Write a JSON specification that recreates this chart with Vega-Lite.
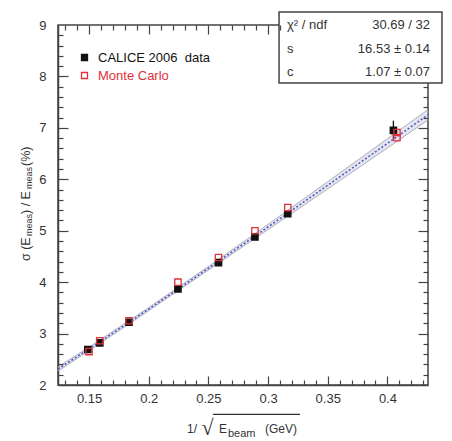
{
  "$schema": "https://vega.github.io/schema/vega-lite/v6.json",
  "width": 370,
  "height": 360,
  "autosize": {"type": "none"},
  "padding": {"left": 58, "top": 25, "right": 24, "bottom": 56},
  "background": "white",
  "config": {
    "font": "Liberation Sans",
    "view": {"stroke": "#444", "strokeWidth": 1.5},
    "axis": {
      "domainColor": "#444", "domainWidth": 1.5, "tickColor": "#444", "tickWidth": 1.2,
      "labelColor": "#333", "labelFontSize": 13, "titleFontSize": 13, "titleColor": "#333",
      "titleFontWeight": "normal", "grid": false, "labelFont": "Liberation Sans", "titleFont": "Liberation Sans",
      "labelOverlap": false
    },
    "text": {"font": "Liberation Sans", "color": "#333", "fontSize": 13}
  },
  "datasets": {
    "points": [
      {"x": 0.149, "y": 2.69, "series": "CALICE 2006\u00a0 data"},
      {"x": 0.159, "y": 2.82, "series": "CALICE 2006\u00a0 data"},
      {"x": 0.1835, "y": 3.22, "series": "CALICE 2006\u00a0 data"},
      {"x": 0.2245, "y": 3.87, "series": "CALICE 2006\u00a0 data"},
      {"x": 0.2585, "y": 4.38, "series": "CALICE 2006\u00a0 data"},
      {"x": 0.289, "y": 4.88, "series": "CALICE 2006\u00a0 data"},
      {"x": 0.3165, "y": 5.33, "series": "CALICE 2006\u00a0 data"},
      {"x": 0.405, "y": 6.95, "series": "CALICE 2006\u00a0 data"},
      {"x": 0.150, "y": 2.65, "series": "Monte Carlo"},
      {"x": 0.159, "y": 2.86, "series": "Monte Carlo"},
      {"x": 0.1835, "y": 3.25, "series": "Monte Carlo"},
      {"x": 0.2245, "y": 4.00, "series": "Monte Carlo"},
      {"x": 0.2585, "y": 4.48, "series": "Monte Carlo"},
      {"x": 0.289, "y": 5.00, "series": "Monte Carlo"},
      {"x": 0.3165, "y": 5.45, "series": "Monte Carlo"},
      {"x": 0.408, "y": 6.91, "series": "Monte Carlo"},
      {"x": 0.408, "y": 6.81, "series": "Monte Carlo"}
    ],
    "err": [
      {"x": 0.405, "lo": 6.78, "hi": 7.14}
    ],
    "fit": [
      {"x": 0.124, "fit": 2.312, "lo": 2.272, "hi": 2.352},
      {"x": 0.15, "fit": 2.701, "lo": 2.666, "hi": 2.736},
      {"x": 0.2, "fit": 3.475, "lo": 3.445, "hi": 3.505},
      {"x": 0.25, "fit": 4.269, "lo": 4.234, "hi": 4.304},
      {"x": 0.3, "fit": 5.073, "lo": 5.023, "hi": 5.123},
      {"x": 0.35, "fit": 5.884, "lo": 5.814, "hi": 5.954},
      {"x": 0.4, "fit": 6.698, "lo": 6.608, "hi": 6.788},
      {"x": 0.434, "fit": 7.253, "lo": 7.153, "hi": 7.353}
    ]
  },
  "layer": [
    {
      "data": {"name": "fit"},
      "mark": {"type": "line", "opacity": 0},
      "encoding": {
        "x": {
          "field": "x", "type": "quantitative",
          "scale": {"domain": [0.124, 0.434], "nice": false, "zero": false},
          "axis": {"orient": "bottom", "labels": false, "title": null, "domain": false, "offset": -9, "tickSize": 9, "zindex": 1,
                   "values": [0.15, 0.2, 0.25, 0.3, 0.35, 0.4]}
        },
        "y": {
          "field": "fit", "type": "quantitative",
          "scale": {"domain": [2, 9], "nice": false, "zero": false},
          "axis": {"orient": "left", "labels": false, "title": null, "domain": false, "offset": -10, "tickSize": 10, "zindex": 1,
                   "values": [3, 4, 5, 6, 7, 8]}
        }
      }
    },
    {
      "data": {"name": "fit"},
      "mark": {"type": "line", "opacity": 0},
      "encoding": {
        "x": {
          "field": "x", "type": "quantitative",
          "scale": {"domain": [0.124, 0.434], "nice": false, "zero": false},
          "axis": {"orient": "bottom", "labels": false, "title": null, "domain": false, "offset": -5, "tickSize": 5, "zindex": 1,
                   "values": [0.13,0.14,0.16,0.17,0.18,0.19,0.21,0.22,0.23,0.24,0.26,0.27,0.28,0.29,0.31,0.32,0.33,0.34,0.36,0.37,0.38,0.39,0.41,0.42,0.43]}
        },
        "y": {
          "field": "fit", "type": "quantitative",
          "scale": {"domain": [2, 9], "nice": false, "zero": false},
          "axis": {"orient": "left", "labels": false, "title": null, "domain": false, "offset": -5, "tickSize": 5, "zindex": 1,
                   "values": [2.2,2.4,2.6,2.8,3.2,3.4,3.6,3.8,4.2,4.4,4.6,4.8,5.2,5.4,5.6,5.8,6.2,6.4,6.6,6.8,7.2,7.4,7.6,7.8,8.2,8.4,8.6,8.8]}
        }
      }
    },
    {
      "data": {"name": "fit"},
      "mark": {"type": "line", "opacity": 0},
      "encoding": {
        "x": {
          "field": "x", "type": "quantitative",
          "scale": {"domain": [0.124, 0.434], "nice": false, "zero": false},
          "axis": {"orient": "top", "labels": false, "title": null, "domain": false, "offset": -9, "tickSize": 9, "zindex": 1,
                   "values": [0.15, 0.2, 0.25, 0.3]}
        },
        "y": {
          "field": "fit", "type": "quantitative",
          "scale": {"domain": [2, 9], "nice": false, "zero": false},
          "axis": {"orient": "right", "labels": false, "title": null, "domain": false, "offset": -10, "tickSize": 10, "zindex": 1,
                   "values": [3, 4, 5, 6, 7]}
        }
      }
    },
    {
      "data": {"name": "fit"},
      "mark": {"type": "line", "opacity": 0},
      "encoding": {
        "x": {
          "field": "x", "type": "quantitative",
          "scale": {"domain": [0.124, 0.434], "nice": false, "zero": false},
          "axis": {"orient": "top", "labels": false, "title": null, "domain": false, "offset": -5, "tickSize": 5, "zindex": 1,
                   "values": [0.13,0.14,0.16,0.17,0.18,0.19,0.21,0.22,0.23,0.24,0.26,0.27,0.28,0.29,0.31]}
        },
        "y": {
          "field": "fit", "type": "quantitative",
          "scale": {"domain": [2, 9], "nice": false, "zero": false},
          "axis": {"orient": "right", "labels": false, "title": null, "domain": false, "offset": -5, "tickSize": 5, "zindex": 1,
                   "values": [2.2,2.4,2.6,2.8,3.2,3.4,3.6,3.8,4.2,4.4,4.6,4.8,5.2,5.4,5.6,5.8,6.2,6.4,6.6,6.8,7.2,7.4,7.6,7.8]}
        }
      }
    },
    {
      "layer": [
        {
          "data": {"name": "fit"},
          "mark": {"type": "area", "color": "#c9cbe0", "opacity": 0.5},
          "encoding": {
            "x": {
              "field": "x", "type": "quantitative",
              "scale": {"domain": [0.124, 0.434], "nice": false, "zero": false},
              "axis": {
                "orient": "bottom",
                "values": [0.15, 0.2, 0.25, 0.3, 0.35, 0.4],
                "format": ".2~f", "ticks": false, "labelPadding": 7,
                "labelFlush": false, "labelOverlap": false, "title": null
              }
            },
            "y": {
              "field": "lo", "type": "quantitative",
              "scale": {"domain": [2, 9], "nice": false, "zero": false},
              "axis": {
                "orient": "left",
                "values": [2, 3, 4, 5, 6, 7, 8, 9],
                "format": "d", "ticks": false, "labelPadding": 12,
                "labelFlush": false, "labelOverlap": false, "title": null
              }
            },
            "y2": {"field": "hi"}
          }
        },
        {
          "data": {"name": "fit"},
          "mark": {"type": "line", "color": "#9a9aa8", "strokeWidth": 0.8},
          "encoding": {"x": {"field": "x", "type": "quantitative"}, "y": {"field": "lo", "type": "quantitative"}}
        },
        {
          "data": {"name": "fit"},
          "mark": {"type": "line", "color": "#9a9aa8", "strokeWidth": 0.8},
          "encoding": {"x": {"field": "x", "type": "quantitative"}, "y": {"field": "hi", "type": "quantitative"}}
        },
        {
          "data": {"name": "fit"},
          "mark": {"type": "line", "color": "#4b55c8", "strokeWidth": 1.5, "strokeDash": [2, 2]},
          "encoding": {"x": {"field": "x", "type": "quantitative"}, "y": {"field": "fit", "type": "quantitative"}}
        },
        {
          "data": {"name": "err"},
          "mark": {"type": "rule", "color": "#111", "strokeWidth": 1.3},
          "encoding": {"x": {"field": "x", "type": "quantitative"}, "y": {"field": "lo", "type": "quantitative"}, "y2": {"field": "hi"}}
        },
        {
          "data": {"name": "points"},
          "mark": {"type": "point", "shape": "square", "size": 40, "strokeWidth": 1.3, "opacity": 1},
          "encoding": {
            "x": {"field": "x", "type": "quantitative"},
            "y": {"field": "y", "type": "quantitative"},
            "stroke": {
              "field": "series", "type": "nominal",
              "scale": {"domain": ["CALICE 2006\u00a0 data", "Monte Carlo"], "range": ["#111111", "#e0303a"]},
              "legend": {
                "title": null, "orient": "none", "legendX": 20, "legendY": 26, "padding": 0,
                "labelFontSize": 13, "labelFont": "Liberation Sans",
                "labelColor": {"expr": "datum.label == 'Monte Carlo' ? '#e0303a' : '#111111'"},
                "symbolSize": 36, "symbolStrokeWidth": 1.3, "rowPadding": 4, "labelOffset": 7
              }
            },
            "fill": {
              "field": "series", "type": "nominal",
              "scale": {"domain": ["CALICE 2006\u00a0 data", "Monte Carlo"], "range": ["#111111", "transparent"]}
            },
            "shape": {
              "field": "series", "type": "nominal",
              "scale": {"domain": ["CALICE 2006\u00a0 data", "Monte Carlo"], "range": ["square", "square"]}
            }
          }
        },
        {
          "data": {"values": [{"box": "stats"}]},
          "mark": {"type": "rect", "fill": "white", "stroke": "#444", "strokeWidth": 1.5},
          "encoding": {"x": {"datum": 0.3092}, "x2": {"datum": 0.4457}, "y": {"datum": 9.253}, "y2": {"datum": 7.872}}
        },
        {
          "data": {"values": [{"label": "χ² / ndf", "value": "30.69 / 32"}]},
          "layer": [
            {"mark": {"type": "text", "align": "left", "baseline": "middle"},
             "encoding": {"x": {"datum": 0.3159}, "y": {"datum": 9.0}, "text": {"field": "label"}}},
            {"mark": {"type": "text", "align": "right", "baseline": "middle"},
             "encoding": {"x": {"datum": 0.4357}, "y": {"datum": 9.0}, "text": {"field": "value"}}}
          ]
        },
        {
          "data": {"values": [{"label": "s", "value": "16.53 ± 0.14"}]},
          "layer": [
            {"mark": {"type": "text", "align": "left", "baseline": "middle"},
             "encoding": {"x": {"datum": 0.3159}, "y": {"datum": 8.533}, "text": {"field": "label"}}},
            {"mark": {"type": "text", "align": "right", "baseline": "middle"},
             "encoding": {"x": {"datum": 0.4357}, "y": {"datum": 8.533}, "text": {"field": "value"}}}
          ]
        },
        {
          "data": {"values": [{"label": "c", "value": "1.07 ± 0.07"}]},
          "layer": [
            {"mark": {"type": "text", "align": "left", "baseline": "middle"},
             "encoding": {"x": {"datum": 0.3159}, "y": {"datum": 8.086}, "text": {"field": "label"}}},
            {"mark": {"type": "text", "align": "right", "baseline": "middle"},
             "encoding": {"x": {"datum": 0.4357}, "y": {"datum": 8.086}, "text": {"field": "value"}}}
          ]
        },
        {
          "data": {"values": [{"a": "1/", "root": "√", "e": "E", "sub": "beam", "unit": "(GeV)"}]},
          "layer": [
            {"mark": {"type": "text", "align": "center", "baseline": "alphabetic", "fontSize": 12},
             "encoding": {"x": {"datum": 0.2363}, "y": {"datum": 1.067}, "text": {"field": "a"}}},
            {"mark": {"type": "text", "align": "left", "baseline": "alphabetic", "fontSize": 22, "font": "DejaVu Sans", "fontWeight": 200},
             "encoding": {"x": {"datum": 0.2442}, "y": {"datum": 1.03}, "text": {"field": "root"}}},
            {"mark": {"type": "text", "align": "left", "baseline": "alphabetic", "fontSize": 12},
             "encoding": {"x": {"datum": 0.2589}, "y": {"datum": 1.067}, "text": {"field": "e"}}},
            {"mark": {"type": "text", "align": "left", "baseline": "alphabetic", "fontSize": 11},
             "encoding": {"x": {"datum": 0.2664}, "y": {"datum": 0.989}, "text": {"field": "sub"}}},
            {"mark": {"type": "text", "align": "left", "baseline": "alphabetic", "fontSize": 12},
             "encoding": {"x": {"datum": 0.2974}, "y": {"datum": 1.067}, "text": {"field": "unit"}}},
            {"mark": {"type": "rule", "color": "#333", "strokeWidth": 1.2},
             "encoding": {"x": {"datum": 0.2538}, "x2": {"datum": 0.3268}, "y": {"datum": 1.43}}}
          ]
        },
        {
          "data": {"values": [{"a": "σ (E", "sub": "meas", "b": ") / E", "c": " (%)"}]},
          "layer": [
            {"mark": {"type": "text", "align": "left", "baseline": "alphabetic", "angle": 270, "fontSize": 12.5},
             "encoding": {"x": {"datum": 0.10054}, "y": {"datum": 4.411}, "text": {"field": "a"}}},
            {"mark": {"type": "text", "align": "left", "baseline": "alphabetic", "angle": 270, "fontSize": 9},
             "encoding": {"x": {"datum": 0.10222}, "y": {"datum": 4.897}, "text": {"field": "sub"}}},
            {"mark": {"type": "text", "align": "left", "baseline": "alphabetic", "angle": 270, "fontSize": 12.5},
             "encoding": {"x": {"datum": 0.10054}, "y": {"datum": 5.325}, "text": {"field": "b"}}},
            {"mark": {"type": "text", "align": "left", "baseline": "alphabetic", "angle": 270, "fontSize": 9},
             "encoding": {"x": {"datum": 0.10222}, "y": {"datum": 5.811}, "text": {"field": "sub"}}},
            {"mark": {"type": "text", "align": "left", "baseline": "alphabetic", "angle": 270, "fontSize": 12.5},
             "encoding": {"x": {"datum": 0.10054}, "y": {"datum": 6.258}, "text": {"field": "c"}}}
          ]
        }
      ]
    }
  ],
  "resolve": {
    "scale": {"x": "independent", "y": "independent"},
    "axis": {"x": "independent", "y": "independent"}
  }
}
